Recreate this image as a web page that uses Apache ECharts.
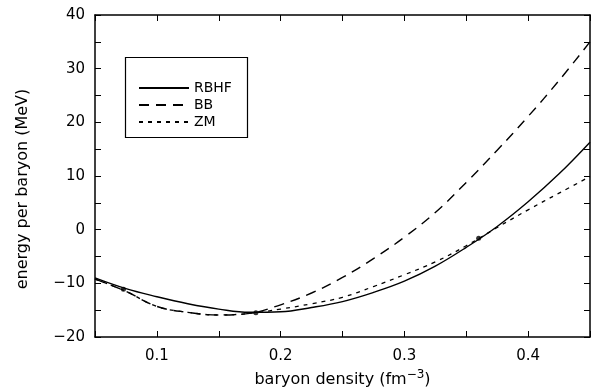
<!DOCTYPE html>
<html>
<head>
<meta charset="utf-8">
<script src="https://cdn.jsdelivr.net/npm/echarts@6/dist/echarts.min.js"></script>
<style>
html,body{margin:0;padding:0;background:#fff;}
#c{width:594px;height:387px;}
</style>
</head>
<body>
<div id="c"></div>
<script>
const density = [0.05, 0.075, 0.10, 0.125, 0.15, 0.175, 0.20, 0.225, 0.25, 0.275, 0.30, 0.325, 0.35, 0.375, 0.40, 0.425, 0.45];
const rbhf = [-9.0, -11.0, -12.5, -13.8, -14.8, -15.4, -15.3, -14.5, -13.4, -11.7, -9.6, -6.8, -3.3, 0.6, 5.2, 10.4, 16.3];
const bb   = [-9.2, -11.5, -14.3, -15.4, -15.9, -15.6, -14.0, -11.8, -8.9, -5.4, -1.4, 3.2, 8.8, 14.8, 21.1, 27.8, 35.0];
const zm   = [-9.2, -11.5, -14.3, -15.4, -15.9, -15.6, -14.8, -13.8, -12.6, -10.6, -8.4, -6.0, -3.0, 0.4, 3.7, 6.8, 9.9];
const markX = [0.073, 0.18, 0.36];
const markY = [-11.1, -15.5, -1.6];
const seriesNames = ['RBHF', 'BB', 'ZM'];
const xTickLabels = ['0.1', '0.2', '0.3', '0.4'];
const yTickLabels = ['-20', '-10', '0', '10', '20', '30', '40'];

const FONT = 'DejaVu Sans';
const pair = (xs, ys) => xs.map((x, i) => [x, ys[i]]);
const chart = echarts.init(document.getElementById('c'));
const tickStyle = {show: true, inside: true, length: 6, lineStyle: {color: '#000', width: 1}};
const lineAx = {show: true, onZero: false, lineStyle: {color: '#000', width: 1.5}};
chart.setOption({
  animation: false,
  backgroundColor: '#fff',
  textStyle: {fontFamily: FONT, color: '#000'},
  grid: {left: 95, right: 4, top: 15, bottom: 50, containLabel: false, outerBoundsMode: 'none'},
  legend: {
    orient: 'vertical', left: 133, top: 76,
    data: seriesNames, itemWidth: 50, itemHeight: 14, itemGap: 3,
    itemStyle: {opacity: 0},
    textStyle: {fontFamily: FONT, fontSize: 14, color: '#000'}
  },
  graphic: [{type: 'rect', left: 123, top: 55, shape: {width: 122, height: 80}, style: {fill: 'none', stroke: '#000', lineWidth: 1.2}, z: 10}],
  xAxis: [{
    type: 'value', min: 0.05, max: 0.45, interval: 0.05, position: 'bottom',
    name: 'baryon density (fm{sup|−3})', nameLocation: 'middle', nameGap: 31,
    nameTextStyle: {fontFamily: FONT, fontSize: 16, color: '#000', rich: {sup: {fontSize: 12, verticalAlign: 'top', padding: [0,0,10,0], fontFamily: FONT}}},
    axisLine: lineAx,
    axisTick: tickStyle,
    splitLine: {show: false},
    axisLabel: {fontFamily: FONT, fontSize: 15, color: '#000', margin: 12,
      formatter: v => { const k = Math.round(v * 10); return Math.abs(k - v * 10) < 1e-6 && xTickLabels.includes((k / 10).toFixed(1)) ? (k / 10).toFixed(1) : ''; }}
  }, {
    type: 'value', min: 0.05, max: 0.45, interval: 0.05, position: 'top',
    axisLine: lineAx,
    axisTick: tickStyle, axisLabel: {show: false}, splitLine: {show: false}
  }],
  yAxis: [{
    type: 'value', min: -20, max: 40, interval: 10, position: 'left',
    name: 'energy per baryon (MeV)', nameLocation: 'middle', nameGap: 64,
    nameTextStyle: {fontFamily: FONT, fontSize: 16, color: '#000', padding: [0, 26, 0, 0]},
    axisLine: lineAx,
    axisTick: tickStyle,
    minorTick: {show: true, splitNumber: 2, length: 6, lineStyle: {color: '#000'}},
    splitLine: {show: false},
    axisLabel: {fontFamily: FONT, fontSize: 15, color: '#000', margin: 10,
      formatter: v => { const s = String(Math.round(v)); return yTickLabels.includes(s) ? s.replace('-', '−') : ''; }}
  }, {
    type: 'value', min: -20, max: 40, interval: 10, position: 'right',
    axisLine: lineAx,
    axisTick: tickStyle,
    minorTick: {show: true, splitNumber: 2, length: 6, lineStyle: {color: '#000'}},
    axisLabel: {show: false}, splitLine: {show: false}
  }],
  series: [
    {name: 'RBHF', type: 'line', data: pair(density, rbhf), smooth: 0.4, symbol: 'none',
      lineStyle: {color: '#000', width: 1.4, type: 'solid'}, itemStyle: {color: '#000'}},
    {name: 'BB', type: 'line', data: pair(density, bb), smooth: 0.4, symbol: 'none',
      lineStyle: {color: '#000', width: 1.4, type: [10, 7]}, itemStyle: {color: '#000'}},
    {name: 'ZM', type: 'line', data: pair(density, zm), smooth: 0.4, symbol: 'none',
      lineStyle: {color: '#000', width: 1.3, type: [4, 5]}, itemStyle: {color: '#000'}},
    {name: 'points', type: 'scatter', data: pair(markX, markY), symbolSize: 5,
      itemStyle: {color: '#000'}}
  ]
});
</script>
</body>
</html>
